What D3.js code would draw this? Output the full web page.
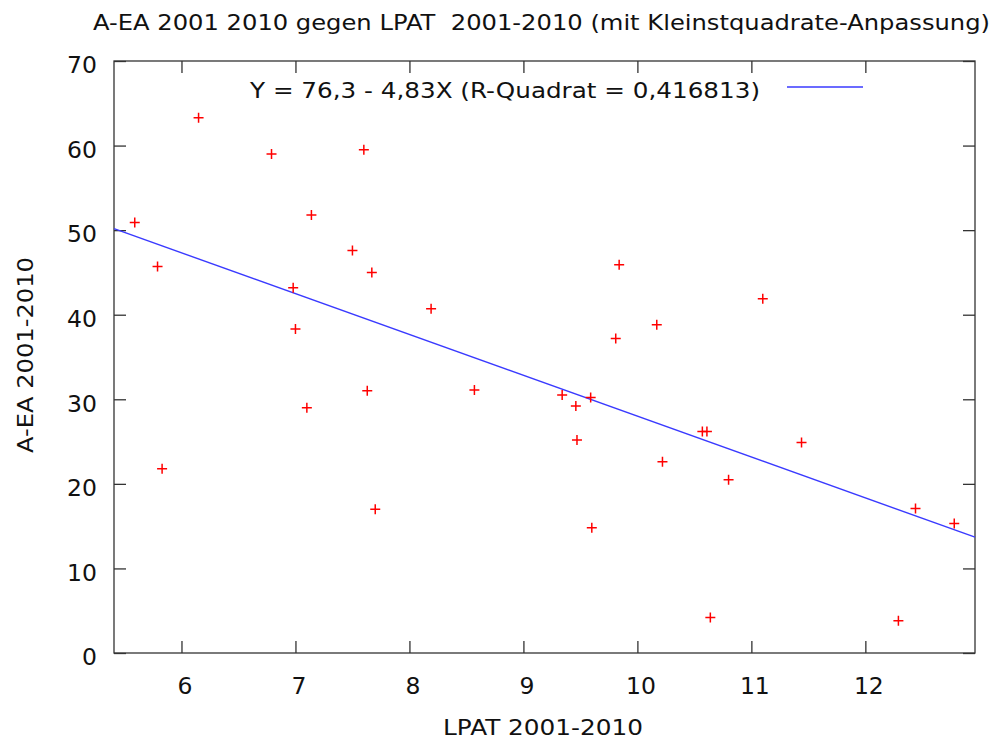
<!DOCTYPE html>
<html>
<head>
<meta charset="utf-8">
<script src="https://cdn.jsdelivr.net/npm/d3@7"></script>
<style>
  html, body { margin: 0; padding: 0; background: #fff; }
  svg { display: block; font-family: "DejaVu Sans", Verdana, sans-serif; }
</style>
</head>
<body>
<svg id="chart" width="998" height="740"></svg>
<script>
// LPAT 2001-2010 (x) and A-EA 2001-2010 (y), one entry per observation
const lpat = [6.15, 6.79, 7.60, 5.59, 7.14, 7.50, 5.79, 7.67, 6.98, 7.00,
              7.63, 7.10, 5.83, 7.70, 9.84, 8.19, 10.17, 9.81, 8.57, 9.34,
              9.59, 9.46, 9.47, 10.22, 9.60, 11.10, 10.57, 10.61, 11.44, 10.80,
              10.64, 12.29, 12.44, 12.78];
const aea  = [63.3, 59.0, 59.5, 50.9, 51.8, 47.6, 45.7, 45.0, 43.2, 38.3,
              31.0, 29.0, 21.8, 17.0, 45.9, 40.7, 38.8, 37.2, 31.1, 30.5,
              30.2, 29.2, 25.2, 22.6, 14.8, 41.9, 26.2, 26.2, 24.9, 20.5,
              4.2, 3.8, 17.1, 15.3];

// least-squares fit: Y = intercept + slope * X
const fitIntercept = [76.3];
const fitSlope = [-4.83];
const rSquared = ["0,416813"];

const xTicks = [6, 7, 8, 9, 10, 11, 12];
const yTicks = [0, 10, 20, 30, 40, 50, 60, 70];
const xDomain = [5.408, 12.962];
const yDomain = [0, 70];

const titleText = "A-EA 2001 2010 gegen LPAT  2001-2010 (mit Kleinstquadrate-Anpassung)";
const xLabel = "LPAT 2001-2010";
const yLabel = "A-EA 2001-2010";

const svg = d3.select("#chart");
const m = { left: 114, right: 975, top: 61, bottom: 653 };

const x = d3.scaleLinear().domain(xDomain).range([m.left, m.right]);
const y = d3.scaleLinear().domain(yDomain).range([m.bottom, m.top]);

const axisColor = "#333";
const textColor = "#111";
const tickLen = 12;

// frame
svg.append("rect")
  .attr("x", m.left).attr("y", m.top)
  .attr("width", m.right - m.left).attr("height", m.bottom - m.top)
  .attr("fill", "none").attr("stroke", axisColor).attr("stroke-width", 1.3);

// axes with inward ticks; mirrored on top and right
function styleAxis(g) {
  g.select(".domain").remove();
  g.selectAll(".tick line").attr("stroke", axisColor).attr("stroke-width", 1.3);
  g.selectAll(".tick text").attr("fill", textColor)
    .style("font-family", '"DejaVu Sans", Verdana, sans-serif');
}

svg.append("g")
  .attr("transform", `translate(0,${m.bottom})`)
  .call(d3.axisBottom(x).tickValues(xTicks).tickFormat(d3.format("d"))
        .tickSizeInner(-tickLen).tickSizeOuter(0).tickPadding(24))
  .call(styleAxis)
  .call(g => g.selectAll(".tick text").attr("font-size", 23.5).attr("dx", 3));

svg.append("g")
  .attr("transform", `translate(0,${m.top})`)
  .call(d3.axisTop(x).tickValues(xTicks).tickFormat("")
        .tickSizeInner(-tickLen).tickSizeOuter(0))
  .call(styleAxis);

svg.append("g")
  .attr("transform", `translate(${m.left},0)`)
  .call(d3.axisLeft(y).tickValues(yTicks).tickFormat(d3.format("d"))
        .tickSizeInner(-tickLen).tickSizeOuter(0).tickPadding(17))
  .call(styleAxis)
  .call(g => g.selectAll(".tick text").attr("font-size", 23.5)
              .attr("dy", "0.5em"));

svg.append("g")
  .attr("transform", `translate(${m.right},0)`)
  .call(d3.axisRight(y).tickValues(yTicks).tickFormat("")
        .tickSizeInner(-tickLen).tickSizeOuter(0))
  .call(styleAxis);

// regression line across the x range
const fitLine = d3.line()
  .x(d => x(d))
  .y(d => y(fitIntercept[0] + fitSlope[0] * d));
svg.append("path")
  .datum(xDomain)
  .attr("d", fitLine)
  .attr("fill", "none")
  .attr("stroke", "#3a3aff")
  .attr("stroke-width", 1.4);

// observations as "+" markers
const cross = 5;
const pts = svg.append("g").attr("stroke", "#ff0000").attr("stroke-width", 1.5);
lpat.forEach((v, i) => {
  const cx = x(v), cy = y(aea[i]);
  pts.append("path")
    .attr("d", `M${cx - cross},${cy}H${cx + cross}M${cx},${cy - cross}V${cy + cross}`);
});

// widened text helper (stretches glyphs to a given run length)
function wideText(sel, len) {
  return sel.attr("textLength", len).attr("lengthAdjust", "spacingAndGlyphs");
}

// legend
const legendY = 87;
svg.append("text")
  .attr("x", 250).attr("y", 98)
  .attr("font-size", 22)
  .attr("fill", textColor)
  .text(`Y = ${String(fitIntercept[0]).replace(".", ",")} - ${String(-fitSlope[0]).replace(".", ",")}X (R-Quadrat = ${rSquared[0]})`)
  .call(wideText, 510);
svg.append("line")
  .attr("x1", 787).attr("x2", 863)
  .attr("y1", legendY).attr("y2", legendY)
  .attr("stroke", "#3a3aff").attr("stroke-width", 1.4);

// title and axis labels
svg.append("text")
  .attr("x", 93).attr("y", 30)
  .attr("font-size", 20.5)
  .attr("fill", textColor)
  .style("white-space", "pre")
  .text(titleText)
  .call(wideText, 897);

svg.append("text")
  .attr("x", 443).attr("y", 735)
  .attr("font-size", 22)
  .attr("fill", textColor)
  .text(xLabel)
  .call(wideText, 200);

svg.append("text")
  .attr("transform", `translate(33,453) rotate(-90)`)
  .attr("font-size", 22)
  .attr("fill", textColor)
  .text(yLabel)
  .call(wideText, 196);
</script>
</body>
</html>
